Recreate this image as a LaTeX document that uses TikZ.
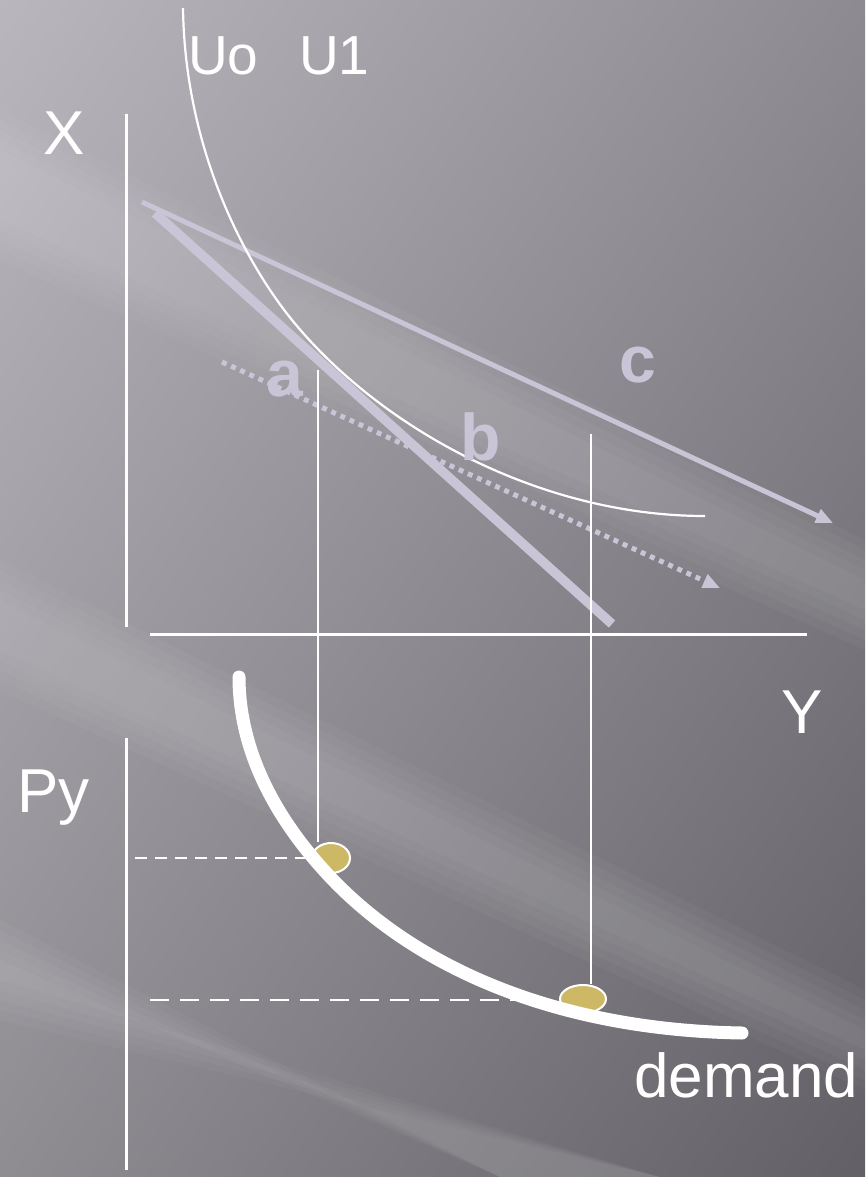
\documentclass[tikz,border=0pt]{standalone}
\usepackage{fontspec}
\setmainfont{Liberation Sans}
\definecolor{bgtl}{HTML}{B9B6BD}
\definecolor{bgtr}{HTML}{8D8A91}
\definecolor{bgbl}{HTML}{8F8C92}
\definecolor{bgbr}{HTML}{626066}
\definecolor{lav}{HTML}{C9C4D6}
\definecolor{gold}{HTML}{CDB866}
\usetikzlibrary{arrows.meta,shapes.geometric,shadings}
\tikzset{
  >={Triangle[length=17pt,width=14pt]},
  axis/.style={draw=white,line width=3pt},
  drop/.style={draw=white,line width=2.6pt},
  guide/.style={draw=white,line width=2.2pt},
  budget/.style={draw=lav,line width=5pt},
  streak/.style={fill=white,opacity=0.03},
  lbl/.style={text=white,inner sep=0pt,anchor=base west,font=\fontsize{62}{70}\selectfont},
  ulbl/.style={lbl,font=\fontsize{55}{62}\selectfont},
  pname/.style={text=lav,inner sep=0pt,anchor=base west,font=\fontsize{66}{72}\selectfont\bfseries},
  dot/.style={ellipse,draw=white,line width=2pt,fill=gold,inner sep=0pt},
}

\begin{document}
\begin{tikzpicture}[x=1pt,y=-1pt]
\useasboundingbox (0,0) rectangle (865,1177);
% background
\shade[upper left=bgtl,upper right=bgtr,lower left=bgbl,lower right=bgbr] (0,0) rectangle (865,1177);
\foreach \d in {0,10,20,30,40}{
 \fill[streak] (0,110+\d) -- (865,540+\d) -- (865,650-\d) -- (0,260-\d) -- cycle;
 \fill[streak] (0,560+\d) -- (865,990+\d) -- (865,1090-\d) -- (0,690-\d) -- cycle;
 \fill[streak] (0,920+\d) -- (500,1177) -- (660,1177) -- (0,1020-\d) -- cycle;
}

% top diagram
\coordinate (xtop) at (126,114);
\coordinate (xbot) at (126,627);
\coordinate (yl) at (150,634);
\coordinate (yr) at (807,634);
\draw[axis] (xtop) -- (xbot);
\draw[axis] (yl) -- (yr);

\coordinate (c0) at (142,202);
\coordinate (c1) at (833,523);
\coordinate (b0) at (222,362);
\coordinate (b1) at (720,588);
\coordinate (a0) at (155,213);
\coordinate (a1) at (612,624);
\draw[budget,->] (c0) -- (c1);
\draw[budget,dash pattern=on 5pt off 5pt,->] (b0) -- (b1);
\draw[budget,line width=9.5pt] (a0) -- (a1);

% indifference curve
\coordinate (u0) at (183,8);
\coordinate (um) at (292,320);
\coordinate (u1) at (705,516);
\draw[white,line width=2.2pt] (u0) .. controls (185,150) and (245,262) .. (um)
  .. controls (380,428) and (540,516) .. (u1);

\node[pname] (la) at (266,396) {a};
\node[pname] (lb) at (460,460) {b};
\node[pname] (lc) at (619,382) {c};

\node[lbl] (lx) at (43,155) {X};
\node[ulbl] (lu0) at (188,75) {Uo};
\node[ulbl] (lu1) at (299,75) {U1};
\node[lbl] (ly) at (781,733) {Y};

% bottom diagram
\coordinate (ptop) at (126,738);
\coordinate (pbot) at (126,1170);
\draw[axis] (ptop) -- (pbot);

\node[dot,minimum width=38pt,minimum height=30pt] (d1) at (331,858) {};
\node[dot,minimum width=46pt,minimum height=28pt] (d2) at (583,999) {};

\coordinate (v1) at (318,370);
\coordinate (v2) at (591,434);
\draw[drop] (v1) -- (v1 |- d1.north);
\draw[drop] (v2) -- (v2 |- d2.north);

\coordinate (h1) at (135,858);
\coordinate (h2) at (150,1000);
\draw[guide,dash pattern=on 12pt off 8pt] (h1) -- (305,858);
\draw[guide,dash pattern=on 19pt off 11pt] (h2) -- (525,1000);

% demand curve
\coordinate (q0) at (239,677);
\coordinate (qm) at (333,880);
\coordinate (q1) at (742,1033);
\draw[white,line width=13pt,line cap=round] (q0) .. controls (239,760) and (285,830) .. (qm)
  .. controls (420,970) and (560,1030) .. (q1);

\node[lbl] (lp) at (17,812) {Py};
\node[lbl] (ld) at (634,1097) {demand};
\end{tikzpicture}
\end{document}
